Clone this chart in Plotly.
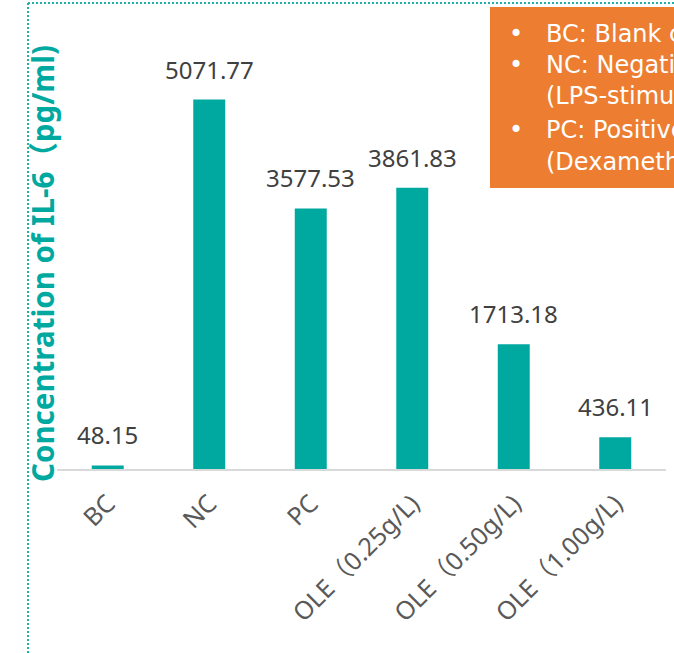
import plotly.graph_objects as go

categories = ["BC", "NC", "PC", "OLE（0.25g/L)", "OLE（0.50g/L)", "OLE（1.00g/L)"]
values = [48.15, 5071.77, 3577.53, 3861.83, 1713.18, 436.11]
value_labels = ["48.15", "5071.77", "3577.53", "3861.83", "1713.18", "436.11"]
legend_lines = ["BC: Blank control", "NC: Negative control", "(LPS-stimulated)",
                "PC: Positive control", "(Dexamethasone)"]
legend_bullets = ["•", "•", "", "•", ""]
y_title = "Concentration of IL-6（pg/ml)"

# layout: baseline pixel rows of the legend lines
legend_baselines_px = [41, 72, 103, 137, 169]

W, H = 674, 653
ML, MR, MT, MB = 57, 8, 32, 184
PW, PH = W - ML - MR, H - MT - MB

def px2x(px):
    return (px - ML) / PW

def py2y(py):
    return (H - MB - py) / PH

TEAL = "#00A99F"
FONT = "Noto Sans, Noto Sans CJK SC, sans-serif"
LEG_FONT = "DejaVu Sans, Noto Sans, sans-serif"

fig = go.Figure()
fig.add_trace(go.Bar(x=categories, y=values, marker=dict(color=TEAL, line=dict(width=0)),
                     hoverinfo="skip"))

annotations = []
for c, v, t in zip(categories, values, value_labels):
    annotations.append(dict(x=c, y=v, xref="x", yref="y", text=t, showarrow=False,
                            yanchor="bottom", yshift=12,
                            font=dict(family=FONT, size=24, color="#404040")))

annotations.append(dict(x=px2x(42), y=py2y(264), xref="paper", yref="paper",
                        text="<b>" + y_title + "</b>", showarrow=False, textangle=-90,
                        xanchor="center", yanchor="middle",
                        font=dict(family=FONT, size=29.5, color=TEAL)))

for line, bullet, base in zip(legend_lines, legend_bullets, legend_baselines_px):
    annotations.append(dict(x=px2x(544), y=py2y(base - 23), xref="paper", yref="paper",
                            text=line, showarrow=False, align="left",
                            xanchor="left", yanchor="top",
                            font=dict(family=LEG_FONT, size=24, color="white")))
    if bullet:
        annotations.append(dict(x=px2x(507), y=py2y(base - 23), xref="paper", yref="paper",
                                text=bullet, showarrow=False, align="left",
                                xanchor="left", yanchor="top",
                                font=dict(family=LEG_FONT, size=24, color="white")))

shapes = [
    dict(type="rect", xref="paper", yref="paper", x0=px2x(490), x1=px2x(720),
         y0=py2y(188), y1=py2y(7), fillcolor="#ED7D31", line=dict(width=0), layer="below"),
    dict(type="line", xref="paper", yref="paper", x0=px2x(28), x1=px2x(28),
         y0=py2y(3), y1=py2y(700), line=dict(color="#1FB0A8", width=2, dash="2px,2px")),
    dict(type="line", xref="paper", yref="paper", x0=px2x(28), x1=px2x(720),
         y0=py2y(3), y1=py2y(3), line=dict(color="#1FB0A8", width=2, dash="2px,2px")),
]

fig.update_layout(
    width=W, height=H,
    margin=dict(l=ML, r=MR, t=MT, b=MB, autoexpand=False),
    paper_bgcolor="white", plot_bgcolor="white",
    bargap=0.685,
    showlegend=False,
    annotations=annotations,
    shapes=shapes,
    xaxis=dict(tickangle=-45, showgrid=False, showline=True, linecolor="#D9D9D9",
               linewidth=2, ticks="", ticklabelstandoff=8,
               tickfont=dict(family=FONT, size=25, color="#595959"),
               fixedrange=True),
    yaxis=dict(range=[0, 6000], showgrid=False, showticklabels=False, showline=False,
               zeroline=False, ticks="", fixedrange=True),
)

fig.write_html("out.html", config={"displayModeBar": False},
               post_script="document.body.style.margin='0';document.body.style.overflow='hidden';")
